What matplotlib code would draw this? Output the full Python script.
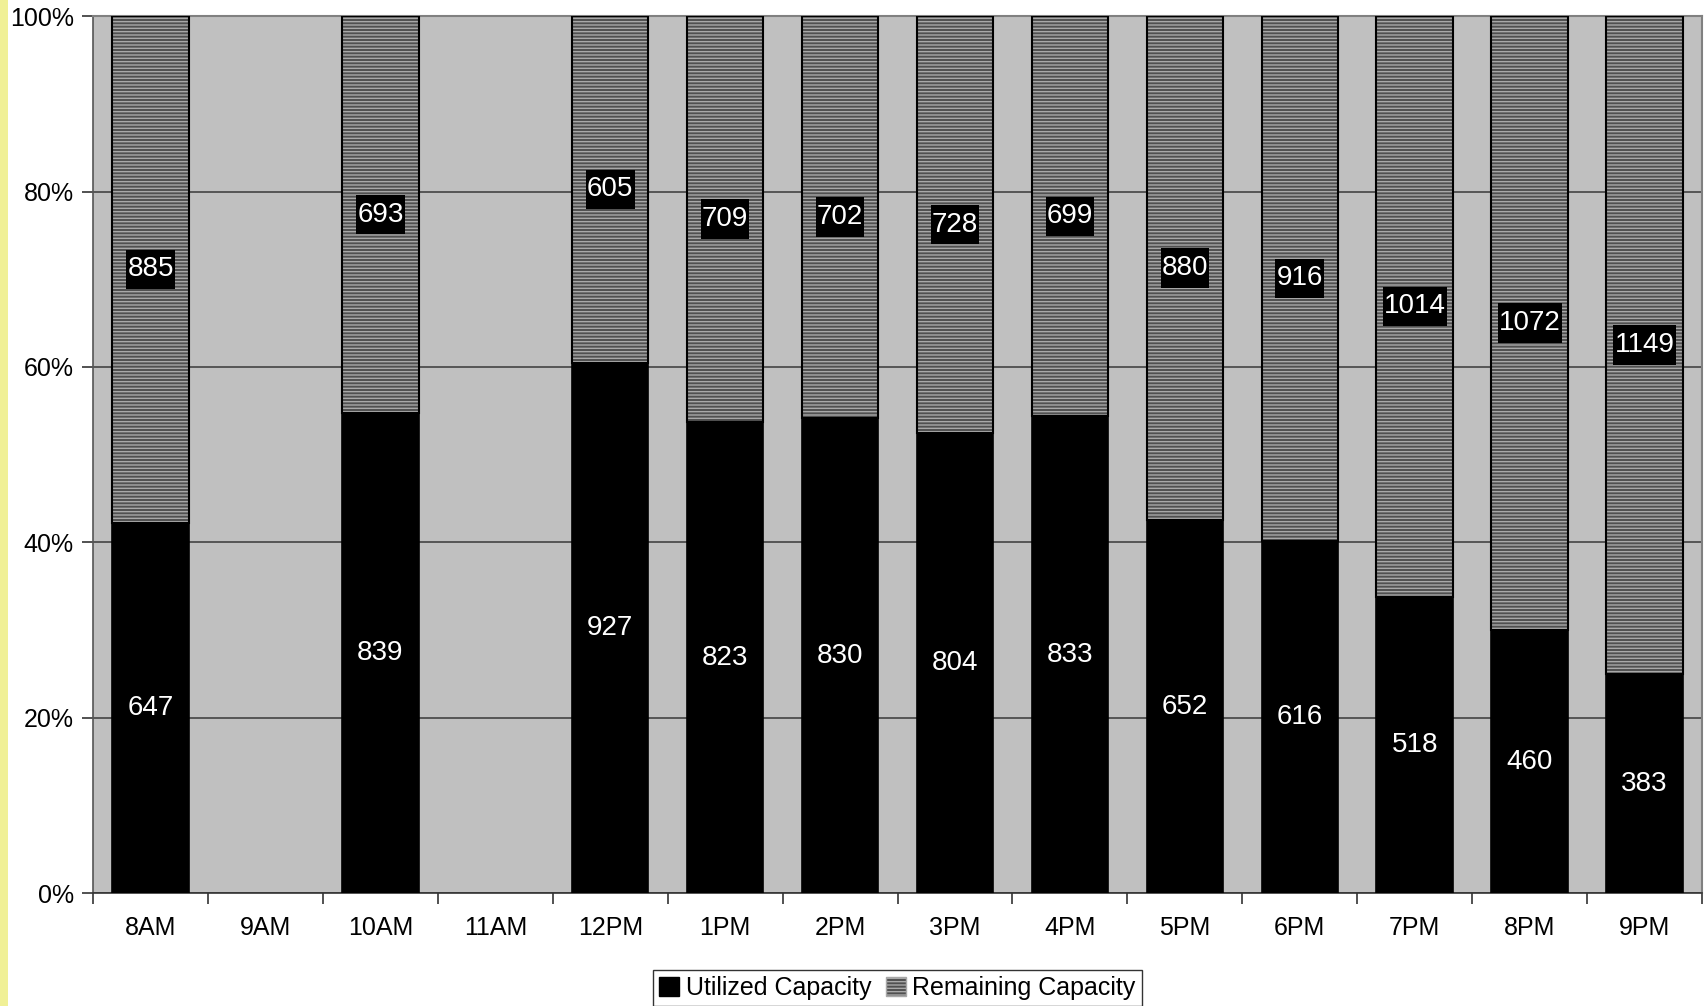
import numpy as np
import matplotlib
matplotlib.use('Agg')
import matplotlib.pyplot as plt
from matplotlib.patches import Patch, Rectangle
from matplotlib.path import Path

# Werte
hours = ['8AM', '9AM', '10AM', '11AM', '12PM', '1PM', '2PM', '3PM',
         '4PM', '5PM', '6PM', '7PM', '8PM', '9PM']
utilized = [647, None, 839, None, 927, 823, 830, 804, 833, 652, 616, 518, 460, 383]
remaining = [885, None, 693, None, 605, 709, 702, 728, 699, 880, 916, 1014, 1072, 1149]

plt.rcParams['font.family'] = ['Liberation Sans', 'DejaVu Sans']
plt.rcParams['hatch.linewidth'] = 1.0


def tall_box(x0, y0, width, height, mutation_size):
    """Rechteck mit wenig Rand seitlich und mehr Rand oben/unten."""
    px = 0.04 * mutation_size
    py = 0.24 * mutation_size
    x0, x1 = x0 - px, x0 + width + px
    y0, y1 = y0 - py, y0 + height + py
    return Path([(x0, y0), (x1, y0), (x1, y1), (x0, y1), (x0, y0)], closed=True)


fig = plt.figure(figsize=(17.08, 10.06), dpi=100)
fig.patches.append(Rectangle((0, 0), 8 / 1708, 1, transform=fig.transFigure,
                             facecolor='#f0f096', edgecolor='none', zorder=0))
ax = fig.add_axes([0.0545, 0.112, 0.942, 0.872])
ax.set_facecolor('#c0c0c0')

x = np.arange(len(hours))
width = 0.665

for i in range(len(hours)):
    if utilized[i] is None:
        continue
    total = utilized[i] + remaining[i]
    u = utilized[i] / total * 100
    r = remaining[i] / total * 100
    ax.bar(x[i], u, width, color='black', edgecolor='black', linewidth=1.2, zorder=3)
    ax.bar(x[i], r, width, bottom=u, color='#505050', edgecolor='#a8a8a8',
           hatch='-----', linewidth=0, zorder=3)
    ax.bar(x[i], r, width, bottom=u, fill=False, edgecolor='black', linewidth=1.5, zorder=4)
    ax.text(x[i], u / 2, str(utilized[i]), ha='center', va='center', color='white',
            fontsize=20, zorder=5)
    ax.text(x[i], u + r / 2, str(remaining[i]), ha='center', va='center', color='white',
            fontsize=20, zorder=5,
            bbox=dict(boxstyle=tall_box, facecolor='black', edgecolor='none'))

ax.set_xlim(-0.5, len(hours) - 0.5)
ax.set_ylim(0, 100)
ax.set_yticks(np.arange(0, 101, 20))
ax.set_yticklabels([f'{v}%' for v in range(0, 101, 20)], fontsize=18)
ax.set_xticks(x)
ax.set_xticklabels(hours, fontsize=18)
ax.set_xticks(np.arange(-0.5, len(hours), 1), minor=True)
ax.tick_params(axis='x', which='major', length=0, pad=16)
ax.tick_params(axis='x', which='minor', length=8, width=1.2, direction='out', color='#333333')
ax.tick_params(axis='y', length=8, width=1.2, direction='out', color='#333333', pad=6)

ax.yaxis.grid(True, color='#444444', linewidth=1.2, zorder=1)
ax.set_axisbelow(True)
for side in ['top', 'right']:
    ax.spines[side].set_color('#808080')
    ax.spines[side].set_linewidth(1.5)
ax.spines['left'].set_color('#555555')
ax.spines['bottom'].set_color('#333333')
ax.spines['left'].set_linewidth(1.2)
ax.spines['bottom'].set_linewidth(1.2)

handles = [Patch(facecolor='black', edgecolor='black'),
           Patch(facecolor='#505050', edgecolor='#a8a8a8', hatch='-----')]
leg = fig.legend(handles, ['Utilized Capacity', 'Remaining Capacity'],
                 loc='lower center', bbox_to_anchor=(0.5255, 0.0), ncol=2,
                 fontsize=18, frameon=True, fancybox=False, borderaxespad=0,
                 handlelength=0.8, handleheight=0.8, handletextpad=0.25,
                 columnspacing=0.6, borderpad=0.25)
leg.get_frame().set_edgecolor('black')
leg.get_frame().set_linewidth(1.0)

plt.savefig('out.png', dpi=100)
